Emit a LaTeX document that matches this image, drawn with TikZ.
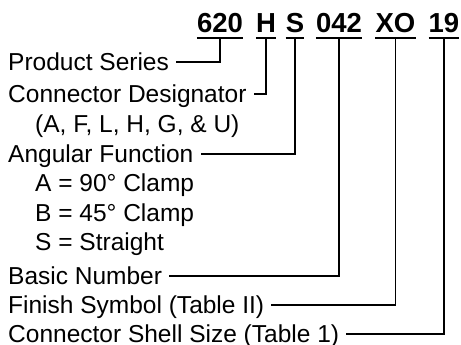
\documentclass[tikz,border=0pt]{standalone}
\usepackage{fontspec}
\setmainfont{Liberation Sans}

\begin{document}
\begin{tikzpicture}[x=1pt,y=-1pt,
  lbl/.style={anchor=west,inner xsep=7pt,inner ysep=0pt,text height=17.5pt,text depth=0pt,font=\fontsize{24.5}{28}\selectfont},
  code/.style={anchor=base,inner xsep=0pt,inner ysep=5pt,text depth=0pt,font=\fontsize{27.5}{32}\selectfont\bfseries},
  ln/.style={line width=1.8pt}]
\useasboundingbox (0,0) rectangle (461,345);
% part number
\node[code] (c620) at (220,32.5) {620};
\node[code] (cH) at (266,32.5) {H};
\node[code] (cS) at (295,32.5) {S};
\node[code] (c042) at (339,32.5) {042};
\node[code] (cXO) at (395.5,32.5) {XO};
\node[code] (c19) at (444,32.5) {19};
\foreach \n in {c620,cH,cS,c042,cXO,c19} {\draw[ln] (\n.south west)--(\n.south east);}
% descriptions
\node[lbl] (lProd) at (1,62) {Product Series};
\node[lbl] (lDesig) at (1,94) {Connector Designator};
\node[lbl] (lDesigOpt) at (28,124) {(A, F, L, H, G, \& U)};
\node[lbl] (lAng) at (1,154) {Angular Function};
\node[lbl] (lAngA) at (28,183) {A = 90° Clamp};
\node[lbl] (lAngB) at (28,213) {B = 45° Clamp};
\node[lbl] (lAngS) at (28,242) {S = Straight};
\node[lbl] (lBasic) at (1,276) {Basic Number};
\node[lbl] (lFinish) at (1,305) {Finish Symbol (Table II)};
\node[lbl] (lShell) at (1,334) {Connector Shell Size (Table 1)};
% leaders
\draw[ln] (c620.south) |- (lProd.east);
\draw[ln] (cH.south) |- (lDesig.east);
\draw[ln] (cS.south) |- (lAng.east);
\draw[ln] (c042.south) |- (lBasic.east);
\draw[ln] (cXO.south) |- (lFinish.east);
\draw[ln] (c19.south) |- (lShell.east);
\end{tikzpicture}
\end{document}
